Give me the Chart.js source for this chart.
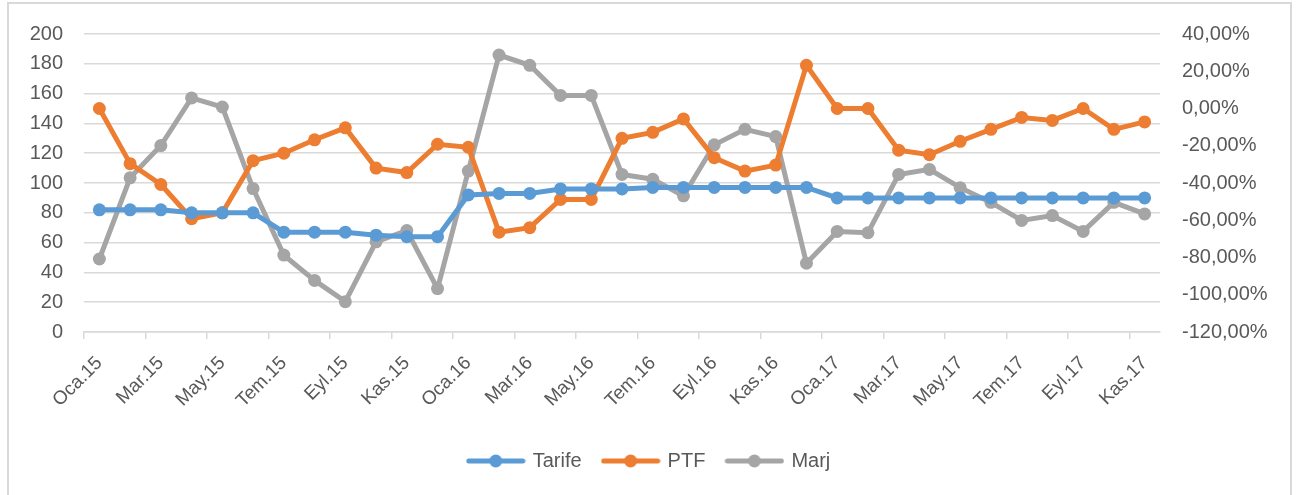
<!DOCTYPE html>
<html>
<head>
<meta charset="utf-8">
<script src="https://cdn.jsdelivr.net/npm/chart.js@4/dist/chart.umd.min.js"></script>
<style>
  html, body { margin: 0; padding: 0; background: #fff; }
  #wrap { position: relative; width: 1309px; height: 495px; }
</style>
</head>
<body>
<div id="wrap"><canvas id="chart"></canvas></div>
<script>
// Month labels (Oca.15 .. Kas.17)
const months = [
  'Oca.15', 'Şub.15', 'Mar.15', 'Nis.15', 'May.15', 'Haz.15', 'Tem.15', 'Ağu.15', 'Eyl.15', 'Eki.15', 'Kas.15', 'Ara.15',
  'Oca.16', 'Şub.16', 'Mar.16', 'Nis.16', 'May.16', 'Haz.16', 'Tem.16', 'Ağu.16', 'Eyl.16', 'Eki.16', 'Kas.16', 'Ara.16',
  'Oca.17', 'Şub.17', 'Mar.17', 'Nis.17', 'May.17', 'Haz.17', 'Tem.17', 'Ağu.17', 'Eyl.17', 'Eki.17', 'Kas.17'
];

// Left axis series
const tarife = [
  82, 82, 82, 80, 80, 80, 67, 67, 67, 65, 64, 64,
  92, 93, 93, 96, 96, 96, 97, 97, 97, 97, 97, 97,
  90, 90, 90, 90, 90, 90, 90, 90, 90, 90, 90
];
const ptf = [
  150, 113, 99, 76, 80, 115, 120, 129, 137, 110, 107, 126,
  124, 67, 70, 89, 89, 130, 134, 143, 117, 108, 112, 179,
  150, 150, 122, 119, 128, 136, 144, 142, 150, 136, 141
];

// Right axis series (percent)
const marj = [
  -80.8, -37.2, -19.9, 5.7, 0.8, -43.0, -78.7, -92.3, -103.7, -71.6, -65.5, -96.7,
  -33.6, 28.7, 23.2, 7.0, 7.0, -35.4, -38.0, -46.9, -19.5, -11.2, -15.1, -83.1,
  -66.0, -66.7, -35.4, -32.7, -42.5, -50.4, -60.1, -57.5, -66.0, -50.4, -56.6
];

const leftTicks = { min: 0, max: 200, step: 20 };
const rightTicks = { min: -120, max: 40, step: 20 };

const colors = { tarife: '#5B9BD5', ptf: '#ED7D31', marj: '#A5A5A5' };
const textColor = '#595959';
const gridColor = '#d9d9d9';
const fontFamily = "'Liberation Sans', Arial, sans-serif";
const fontSize = 20;

// little line+dot image for legend entries
function legendMarker(color) {
  const c = document.createElement('canvas');
  c.width = 60; c.height = 14;
  const g = c.getContext('2d');
  g.strokeStyle = color;
  g.lineWidth = 5;
  g.lineCap = 'round';
  g.beginPath();
  g.moveTo(3, 7); g.lineTo(57, 7);
  g.stroke();
  g.fillStyle = color;
  g.beginPath();
  g.arc(30, 7, 6.5, 0, Math.PI * 2);
  g.fill();
  return c;
}

const frame = {
  id: 'frame',
  beforeDraw(chart) {
    const ctx = chart.ctx;
    ctx.save();
    ctx.strokeStyle = gridColor;
    ctx.lineWidth = 2;
    ctx.strokeRect(8, 3, 1283, 500);
    ctx.restore();
  }
};

function lineSet(label, data, color, axis) {
  return {
    label: label,
    data: data,
    yAxisID: axis,
    borderColor: color,
    backgroundColor: color,
    borderWidth: 5,
    pointRadius: 6.5,
    pointHoverRadius: 6.5,
    pointBackgroundColor: color,
    pointBorderWidth: 0,
    tension: 0
  };
}

const ctx = document.getElementById('chart').getContext('2d');
const chart = new Chart(ctx, {
  type: 'line',
  data: {
    labels: months,
    datasets: [
      lineSet('Tarife', tarife, colors.tarife, 'y'),
      lineSet('PTF', ptf, colors.ptf, 'y'),
      lineSet('Marj', marj, colors.marj, 'y1')
    ]
  },
  options: {
    responsive: true,
    maintainAspectRatio: false,
    animation: false,
    layout: { padding: { left: 8, right: 18, top: 31, bottom: 14 } },
    plugins: {
      tooltip: { enabled: false },
      legend: {
        position: 'bottom',
        labels: {
          usePointStyle: true,
          pointStyleWidth: 54,
          boxHeight: 14,
          padding: 22,
          color: textColor,
          font: { family: fontFamily, size: fontSize },
          generateLabels(chart) {
            return chart.data.datasets.map((ds, i) => ({
              text: ds.label,
              fillStyle: ds.borderColor,
              strokeStyle: ds.borderColor,
              fontColor: textColor,
              lineWidth: 0,
              pointStyle: legendMarker(ds.borderColor),
              hidden: false,
              datasetIndex: i
            }));
          }
        }
      }
    },
    scales: {
      x: {
        offset: true,
        afterFit(s) { s.height = 97; },
        border: { color: gridColor, width: 1.5 },
        grid: {
          offset: true,
          drawOnChartArea: false,
          tickLength: 7,
          lineWidth: 1.5,
          color: c => (c.index % 2 === 0 ? gridColor : 'rgba(0,0,0,0)')
        },
        ticks: {
          autoSkip: false,
          minRotation: 45,
          maxRotation: 45,
          padding: 13,
          color: textColor,
          font: { family: fontFamily, size: 19 },
          callback: (v, i) => (i % 2 === 0 ? months[i] : '')
        }
      },
      y: {
        position: 'left',
        min: leftTicks.min,
        max: leftTicks.max,
        afterFit(s) { s.width = 76; },
        border: { display: false },
        grid: { color: gridColor, lineWidth: 1.5, drawTicks: false },
        ticks: {
          stepSize: leftTicks.step,
          padding: 21,
          color: textColor,
          font: { family: fontFamily, size: fontSize }
        }
      },
      y1: {
        position: 'right',
        min: rightTicks.min,
        max: rightTicks.max,
        afterFit(s) { s.width = 131; },
        border: { display: false },
        grid: { drawOnChartArea: false, drawTicks: false },
        ticks: {
          stepSize: rightTicks.step,
          padding: 22,
          color: textColor,
          font: { family: fontFamily, size: fontSize },
          callback: v => v.toFixed(2).replace('.', ',') + '%'
        }
      }
    }
  },
  plugins: [frame]
});
</script>
</body>
</html>
